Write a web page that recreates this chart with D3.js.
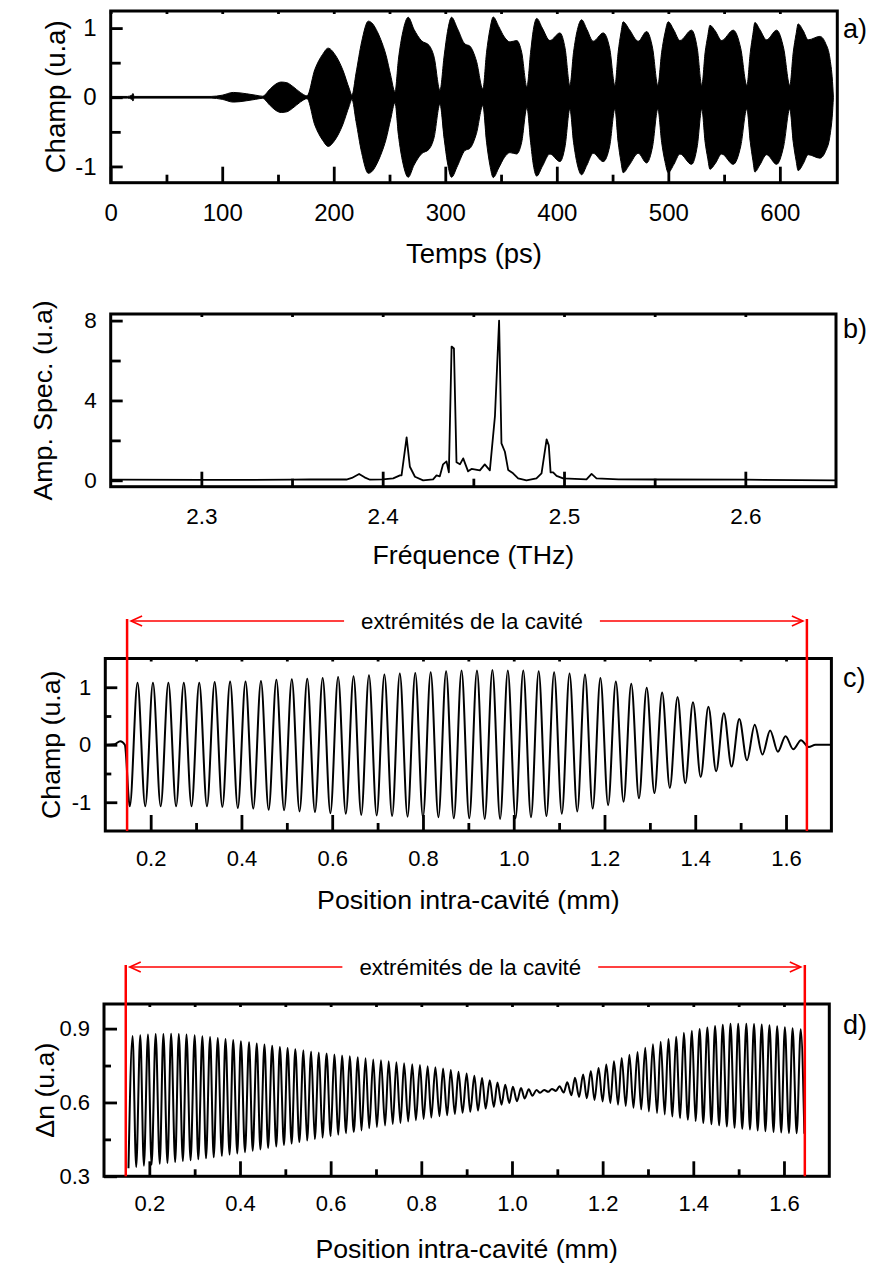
<!DOCTYPE html>
<html><head><meta charset="utf-8">
<script src="https://cdn.jsdelivr.net/npm/d3@7"></script>
<style>
body{margin:0;background:#fff}
svg{display:block}
text{font-family:"Liberation Sans",Arial,Helvetica,sans-serif;fill:#000}
</style>
</head><body>
<svg id="chart" width="884" height="1267"></svg>
<script>
// ---------- Panel a : time-domain field envelope (ps, u.a) ----------
const aTime = [0,15,19,20,21,90,100,110,122,130,136,143,148,153,158,163,170,176,183,190,195,201,208,214,216.3,220,225,231,235,239,242,247,251,254.9,258,262,266.8,272,278.5,285.5,290,295.2,299,302,305.6,311,317.6,322,328,333.7,337,340,343,348,353,358,364,368.5,373.2,376.5,379,382,387,393.8,402.8,407.5,411.7,415,418.5,422.2,427,432.6,441.6,447.5,452.1,455,457.5,459.5,465,473,480.5,486,490.6,494,497,499.9,505,510.4,520.8,526,530,533,535.3,537.3,542,547.8,558.2,565,570.4,573.5,575.8,577.6,582,588.1,597.1,603.5,608.9,612,614.5,616.4,621,625.4,635.9,641,645,647.5,648];
const aEnvelope = [0.012,0.012,0.03,0.055,0.012,0.012,0.03,0.07,0.05,0.03,0.015,0.12,0.19,0.22,0.21,0.16,0.07,0.02,0.40,0.62,0.71,0.62,0.40,0.12,0.03,0.35,0.80,1.10,1.06,0.95,0.84,0.60,0.32,0.08,0.55,0.95,1.156,0.98,0.82,0.75,0.58,0.10,0.6,0.95,1.156,0.99,0.77,0.74,0.52,0.12,0.65,0.98,1.16,1.02,0.87,0.80,0.82,0.65,0.15,0.65,0.98,1.14,1.0,0.82,0.93,0.70,0.17,0.65,0.98,1.12,0.98,0.81,0.93,0.70,0.17,0.65,0.93,1.09,0.98,0.81,0.95,0.70,0.17,0.65,0.93,1.09,0.97,0.82,0.97,0.70,0.17,0.65,0.88,1.04,0.96,0.82,0.97,0.70,0.17,0.65,0.91,1.08,0.98,0.83,0.97,0.70,0.17,0.65,0.91,1.06,0.96,0.83,0.88,0.78,0.55,0.15,0];
const aXTicks = [0,100,200,300,400,500,600];
const aXMinor = [50,150,250,350,450,550];
const aYTicks = [-1,0,1];
const aYMinor = [-0.5,0.5];

// ---------- Panel b : spectrum (THz, u.a) ----------
const bFreq = [2.25,2.30,2.35,2.36,2.38,2.383,2.387,2.390,2.393,2.400,2.4058,2.4095,2.4104,2.4132,2.4150,2.4178,2.4223,2.4278,2.4297,2.4315,2.4333,2.4352,2.4365,2.4380,2.4393,2.4407,2.4426,2.4444,2.4471,2.4490,2.4536,2.4563,2.4591,2.4619,2.4642,2.4655,2.4674,2.4692,2.4719,2.4747,2.4793,2.4848,2.4876,2.4904,2.4916,2.4926,2.4940,2.4959,2.4995,2.5124,2.5152,2.5179,2.53,2.55,2.60,2.65];
const bAmp = [0.03,0.02,0.03,0.05,0.04,0.12,0.32,0.15,0.03,0.05,0.1,0.25,0.25,2.15,0.68,0.18,0.0,0.05,0.25,0.2,0.8,0.95,0.4,6.7,6.6,0.9,0.8,1.1,0.45,0.57,0.5,0.8,0.5,3.2,8.0,1.85,1.43,0.52,0.35,0.1,0.0,0.1,0.35,2.05,1.75,0.4,0.4,0.22,0.1,0.05,0.32,0.1,0.05,0.04,0.03,0.0];
const bXTicks = [2.3,2.4,2.5,2.6];
const bXMinor = [2.35,2.45,2.55];
const bYTicks = [0,4,8];
const bYMinor = [2,6];

// ---------- Panel c : intra-cavity field (mm, u.a) ----------
const cLeadX = [0.100,0.120,0.133,0.143];
const cLeadY = [0.0,0.01,0.06,0.0];
const cPeakX = [0.171,0.205,0.239,0.273,0.307,0.341,0.375,0.409,0.443,0.477,0.511,0.545,0.579,0.613,0.647,0.681,0.715,0.749,0.783,0.817,0.851,0.885,0.919,0.953,0.987,1.021,1.055,1.089,1.123,1.157,1.191,1.225,1.259,1.293,1.327,1.361,1.395,1.429,1.463,1.497,1.531,1.565,1.599,1.633];
const cPeakY = [1.08,1.08,1.08,1.08,1.08,1.09,1.10,1.10,1.11,1.13,1.14,1.15,1.16,1.18,1.19,1.21,1.22,1.24,1.25,1.26,1.28,1.29,1.29,1.30,1.29,1.29,1.28,1.26,1.24,1.22,1.16,1.10,1.06,0.99,0.91,0.83,0.74,0.66,0.55,0.45,0.35,0.25,0.15,0.08];
const cTroughX = [0.154,0.188,0.222,0.256,0.290,0.324,0.358,0.392,0.426,0.460,0.494,0.528,0.562,0.596,0.630,0.664,0.698,0.732,0.766,0.800,0.834,0.868,0.902,0.936,0.970,1.004,1.038,1.072,1.106,1.140,1.174,1.208,1.242,1.276,1.310,1.344,1.378,1.412,1.446,1.480,1.514,1.548,1.582,1.616,1.650];
const cTroughY = [-1.07,-1.07,-1.07,-1.07,-1.07,-1.07,-1.08,-1.10,-1.11,-1.13,-1.14,-1.16,-1.17,-1.19,-1.20,-1.22,-1.23,-1.24,-1.25,-1.26,-1.26,-1.28,-1.28,-1.29,-1.29,-1.28,-1.26,-1.24,-1.20,-1.16,-1.11,-1.05,-0.99,-0.93,-0.84,-0.75,-0.67,-0.56,-0.46,-0.38,-0.27,-0.17,-0.12,-0.08,-0.04];
const cTailX = [1.665,1.700];
const cTailY = [0.0,0.0];
const cXTicks = [0.2,0.4,0.6,0.8,1.0,1.2,1.4,1.6];
const cXMinor = [0.3,0.5,0.7,0.9,1.1,1.3,1.5];
const cYTicks = [-1,0,1];
const cYMinor = [-0.5,0.5];

// ---------- Panel d : index grating (mm, u.a) ----------
const dPeakX = [0.163,0.180,0.197,0.214,0.231,0.248,0.265,0.282,0.300,0.317,0.334,0.351,0.368,0.385,0.402,0.420,0.437,0.454,0.471,0.488,0.505,0.522,0.540,0.557,0.574,0.591,0.608,0.625,0.642,0.660,0.677,0.694,0.711,0.728,0.745,0.762,0.780,0.797,0.814,0.831,0.848,0.865,0.882,0.900,0.917,0.934,0.951,0.968,0.985,1.002,1.020,1.037,1.054,1.071,1.088,1.105,1.122,1.139,1.157,1.174,1.191,1.208,1.225,1.242,1.259,1.277,1.294,1.311,1.328,1.345,1.362,1.379,1.397,1.414,1.431,1.448,1.465,1.482,1.499,1.517,1.534,1.551,1.568,1.585,1.602,1.619,1.637];
const dPeakY = [0.870,0.873,0.876,0.878,0.878,0.879,0.878,0.876,0.873,0.869,0.866,0.862,0.858,0.854,0.849,0.845,0.840,0.835,0.830,0.825,0.821,0.816,0.812,0.807,0.803,0.799,0.795,0.791,0.788,0.784,0.780,0.775,0.771,0.767,0.763,0.759,0.755,0.752,0.747,0.743,0.738,0.732,0.725,0.718,0.709,0.699,0.690,0.681,0.672,0.664,0.659,0.654,0.651,0.651,0.655,0.666,0.682,0.700,0.714,0.728,0.740,0.754,0.767,0.781,0.794,0.805,0.822,0.836,0.847,0.858,0.867,0.883,0.891,0.898,0.905,0.911,0.916,0.920,0.920,0.920,0.919,0.917,0.914,0.910,0.906,0.901,0.897];
const dTroughX = [0.154,0.171,0.188,0.205,0.223,0.240,0.257,0.274,0.291,0.308,0.325,0.342,0.360,0.377,0.394,0.411,0.428,0.445,0.462,0.480,0.497,0.514,0.531,0.548,0.565,0.582,0.600,0.617,0.634,0.651,0.668,0.685,0.702,0.720,0.737,0.754,0.771,0.788,0.805,0.822,0.840,0.857,0.874,0.891,0.908,0.925,0.942,0.960,0.977,0.994,1.011,1.028,1.045,1.062,1.080,1.097,1.114,1.131,1.148,1.165,1.182,1.200,1.217,1.234,1.251,1.268,1.285,1.302,1.320,1.337,1.354,1.371,1.388,1.405,1.422,1.440,1.457,1.474,1.491,1.508,1.525,1.542,1.559,1.577,1.594,1.611,1.628,1.645];
const dTroughY = [0.333,0.338,0.343,0.347,0.351,0.354,0.358,0.362,0.365,0.369,0.373,0.377,0.383,0.388,0.393,0.398,0.404,0.409,0.415,0.421,0.427,0.433,0.439,0.445,0.451,0.457,0.463,0.469,0.475,0.480,0.486,0.495,0.500,0.506,0.512,0.517,0.523,0.528,0.533,0.539,0.544,0.548,0.553,0.558,0.562,0.567,0.575,0.582,0.591,0.598,0.605,0.616,0.627,0.639,0.643,0.647,0.640,0.629,0.622,0.617,0.610,0.604,0.598,0.591,0.586,0.578,0.571,0.563,0.557,0.551,0.543,0.536,0.530,0.524,0.517,0.511,0.507,0.502,0.497,0.493,0.490,0.486,0.483,0.480,0.478,0.476,0.475,0.473];
const dXTicks = [0.2,0.4,0.6,0.8,1.0,1.2,1.4,1.6];
const dXMinor = [0.3,0.5,0.7,0.9,1.1,1.3,1.5];
const dYTicks = [0.3,0.6,0.9];
const dYMinor = [0.45,0.75];

const cavityEnds = [0.148, 1.646];
const cavityLabel = "extrémités de la cavité";

// ---------- drawing ----------
const svg = d3.select("#chart");
const FONT_LETTER = 27;

function merge(xs1, ys1, xs2, ys2, extra) {
  let pts = xs1.map((v,i)=>({x:v,y:ys1[i]})).concat(xs2.map((v,i)=>({x:v,y:ys2[i]})));
  extra.forEach(([xs,ys]) => { pts = pts.concat(xs.map((v,i)=>({x:v,y:ys[i]}))); });
  return pts.sort((p,q)=>p.x-q.x);
}

function frame(x, y, cfg) {
  const g = svg.append("g");
  const [x0,x1] = x.range(), [yb,yt] = y.range();
  g.append("g").attr("transform",`translate(0,${yb})`)
    .call(d3.axisBottom(x).tickValues(cfg.xMinor).tickSize(-cfg.xMinorLen).tickFormat(""));
  g.append("g").attr("transform",`translate(0,${yb})`)
    .call(d3.axisBottom(x).tickValues(cfg.xTicks).tickSize(-cfg.xMajorLen).tickPadding(cfg.xPad).tickFormat(cfg.xFmt));
  g.append("g").attr("transform",`translate(0,${yt})`)
    .call(d3.axisTop(x).tickValues(cfg.xTicks.concat(cfg.xMinor)).tickSize(-3).tickFormat(""));
  g.append("g").attr("transform",`translate(${x0},0)`)
    .call(d3.axisLeft(y).tickValues(cfg.yMinor).tickSize(-cfg.yMinorLen).tickFormat(""));
  g.append("g").attr("transform",`translate(${x0},0)`)
    .call(d3.axisLeft(y).tickValues(cfg.yTicks).tickSize(-cfg.yMajorLen).tickPadding(cfg.yPad).tickFormat(cfg.yFmt));
  g.selectAll(".domain").remove();
  g.selectAll(".tick line").attr("stroke","#000").attr("stroke-width",2.8);
  g.selectAll("g").attr("font-family",null).attr("font-size",null);
  g.selectAll(".tick text").attr("font-size",cfg.tickFont).attr("fill","#000");
  g.append("rect").attr("x",x0).attr("y",yt).attr("width",x1-x0).attr("height",yb-yt)
    .attr("fill","none").attr("stroke","#000").attr("stroke-width",3);
  svg.append("text").attr("x",(x0+x1)/2).attr("y",cfg.xTitleY).attr("text-anchor","middle")
    .attr("font-size",cfg.titleFont).text(cfg.xTitle);
  svg.append("text").attr("transform",`translate(${cfg.yTitleX},${(yb+yt)/2}) rotate(-90)`)
    .attr("text-anchor","middle").attr("dy","0.35em").attr("font-size",cfg.titleFont).text(cfg.yTitle);
  svg.append("text").attr("x",843).attr("y",cfg.letterY).attr("font-size",FONT_LETTER).text(cfg.letter);
  return g;
}

const fmtInt = d => String(d);
const fmt1 = d3.format(".1f");

// ---- a ----
const xa = d3.scaleLinear().domain([0,651.5]).range([110.7,837.3]);
const ya = d3.scaleLinear().domain([-1.235,1.247]).range([182.7,11]);
const aData = aTime.map((t,i)=>({t, e:aEnvelope[i]}));
svg.append("path").datum(aData)
  .attr("d", d3.area().x(d=>xa(d.t)).y0(d=>ya(-d.e)).y1(d=>ya(d.e)).curve(d3.curveMonotoneX))
  .attr("fill","#000").attr("stroke","#000").attr("stroke-width",1);
frame(xa, ya, {xTicks:aXTicks,xMinor:aXMinor,yTicks:aYTicks,yMinor:aYMinor,
  xMajorLen:16,xMinorLen:8,yMajorLen:12,yMinorLen:10,xPad:21,yPad:14,xFmt:fmtInt,yFmt:fmtInt,
  tickFont:24,titleFont:27.5,
  xTitle:"Temps (ps)",xTitleY:263,yTitle:"Champ (u.a)",yTitleX:55,letter:"a)",letterY:38});

// ---- b ----
const xb = d3.scaleLinear().domain([2.25,2.65]).range([110.7,836]);
const yb = d3.scaleLinear().domain([-0.32,8.33]).range([486.7,314]);
svg.append("path").datum(bFreq.map((f,i)=>({f,a:bAmp[i]})))
  .attr("d", d3.line().x(d=>xb(d.f)).y(d=>yb(d.a)))
  .attr("fill","none").attr("stroke","#000").attr("stroke-width",1.8).attr("stroke-linejoin","round");
frame(xb, yb, {xTicks:bXTicks,xMinor:bXMinor,yTicks:bYTicks,yMinor:bYMinor,
  xMajorLen:15,xMinorLen:8,yMajorLen:12,yMinorLen:10,xPad:21,yPad:14,xFmt:fmt1,yFmt:fmtInt,
  tickFont:22.5,titleFont:26.7,
  xTitle:"Fréquence (THz)",xTitleY:564,yTitle:"Amp. Spec. (u.a)",yTitleX:43,letter:"b)",letterY:338});

// ---- c ----
const xc = d3.scaleLinear().domain([0.1,1.7]).range([105.3,831.4]);
const yc = d3.scaleLinear().domain([-1.5,1.5]).range([831,658.5]);
const cData = merge(cPeakX,cPeakY,cTroughX,cTroughY,[[cLeadX,cLeadY],[cTailX,cTailY]]);
svg.append("path").datum(cData)
  .attr("d", d3.line().x(d=>xc(d.x)).y(d=>yc(d.y)).curve(d3.curveMonotoneX))
  .attr("fill","none").attr("stroke","#000").attr("stroke-width",2);
frame(xc, yc, {xTicks:cXTicks,xMinor:cXMinor,yTicks:cYTicks,yMinor:cYMinor,
  xMajorLen:16,xMinorLen:8,yMajorLen:12,yMinorLen:6,xPad:19,yPad:14,xFmt:fmt1,yFmt:fmtInt,
  tickFont:22,titleFont:26.7,
  xTitle:"Position intra-cavité (mm)",xTitleY:909,yTitle:"Champ (u.a)",yTitleX:51,letter:"c)",letterY:687});

// ---- d ----
const xd = d3.scaleLinear().domain([0.1,1.7]).range([104.0,829.3]);
const yd = d3.scaleLinear().domain([0.3,1.0]).range([1176.3,1004]);
const dData = merge(dPeakX,dPeakY,dTroughX,dTroughY,[]);
svg.append("path").datum(dData)
  .attr("d", d3.line().x(d=>xd(d.x)).y(d=>yd(d.y)).curve(d3.curveMonotoneX))
  .attr("fill","none").attr("stroke","#000").attr("stroke-width",2);
frame(xd, yd, {xTicks:dXTicks,xMinor:dXMinor,yTicks:dYTicks,yMinor:dYMinor,
  xMajorLen:15,xMinorLen:7,yMajorLen:13,yMinorLen:7,xPad:19,yPad:14,xFmt:fmt1,yFmt:fmt1,
  tickFont:22,titleFont:26.7,
  xTitle:"Position intra-cavité (mm)",xTitleY:1258,yTitle:"Δn (u.a)",yTitleX:45,letter:"d)",letterY:1034});

// ---- cavity annotations ----
function cavity(x, yBottom, yArrow) {
  const g = svg.append("g").attr("stroke","#ff0000").attr("fill","none");
  const xl = x(cavityEnds[0]), xr = x(cavityEnds[1]);
  g.append("line").attr("x1",xl).attr("x2",xl).attr("y1",yArrow-2).attr("y2",yBottom).attr("stroke-width",2.5);
  g.append("line").attr("x1",xr).attr("x2",xr).attr("y1",yArrow-2).attr("y2",yBottom).attr("stroke-width",2.5);
  const cx = (xl+xr)/2 + 5;
  const t = svg.append("text").attr("x",cx).attr("y",yArrow).attr("dy","0.35em")
    .attr("text-anchor","middle").attr("font-size",22.3).attr("fill","#ff0000").text(cavityLabel);
  const w = t.node().getComputedTextLength();
  const gap = 17;
  g.append("line").attr("x1",xl+4).attr("x2",cx-w/2-gap).attr("y1",yArrow).attr("y2",yArrow).attr("stroke-width",1.6);
  g.append("line").attr("x1",cx+w/2+gap).attr("x2",xr-4).attr("y1",yArrow).attr("y2",yArrow).attr("stroke-width",1.6);
  g.append("path").attr("d",`M${xl+15},${yArrow-5}L${xl+4},${yArrow}L${xl+15},${yArrow+5}`).attr("stroke-width",1.6);
  g.append("path").attr("d",`M${xr-15},${yArrow-5}L${xr-4},${yArrow}L${xr-15},${yArrow+5}`).attr("stroke-width",1.6);
}
cavity(xc, 831, 621);
cavity(xd, 1176.3, 967);
</script>
</body></html>
